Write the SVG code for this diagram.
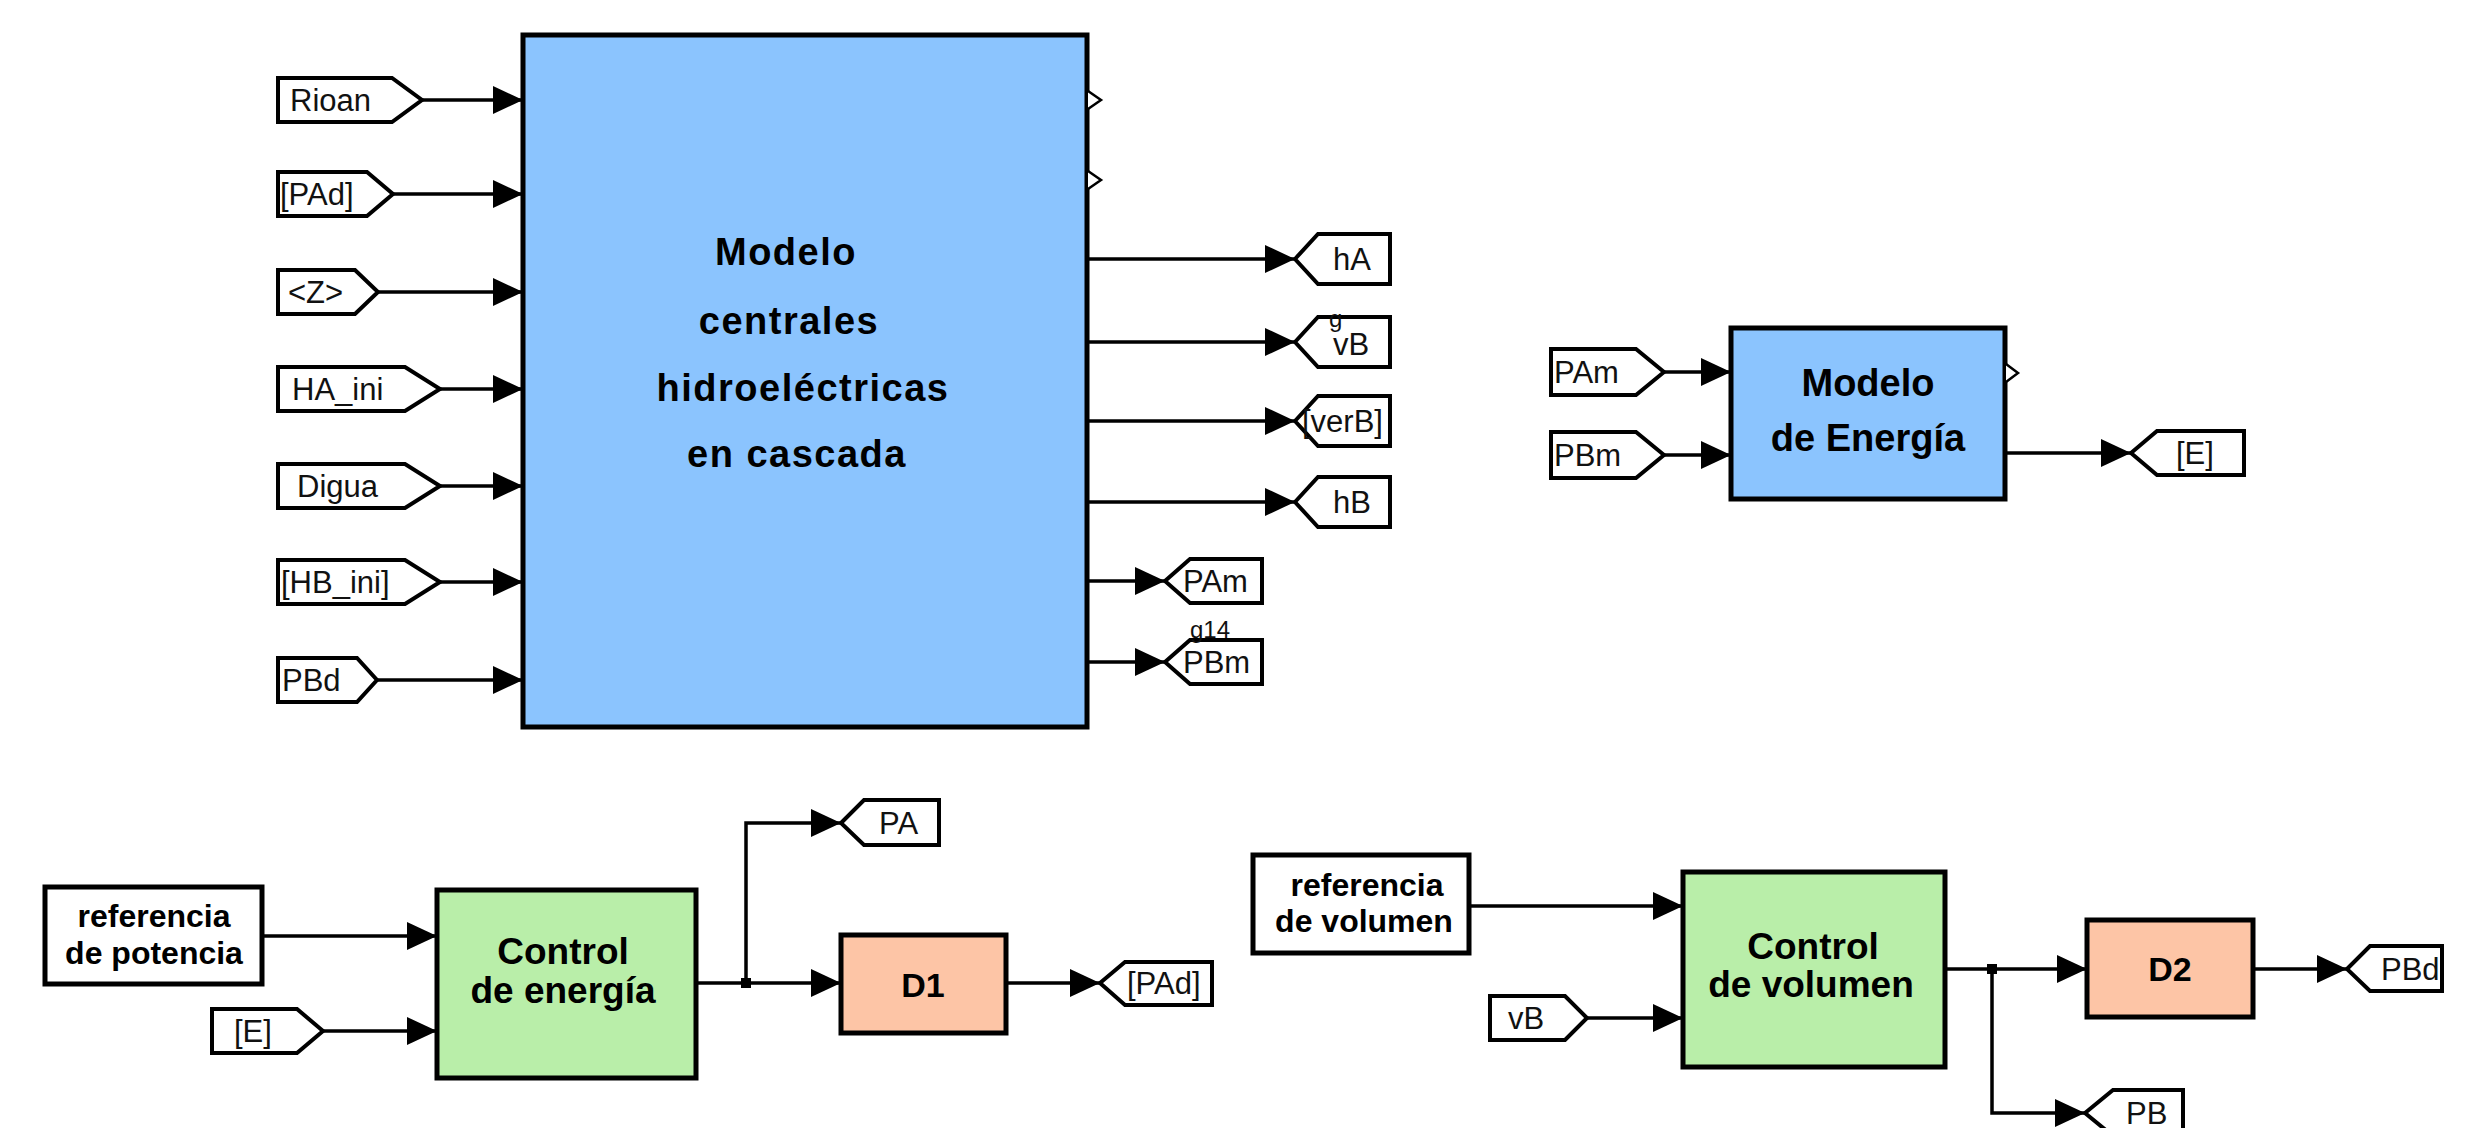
<svg xmlns="http://www.w3.org/2000/svg" width="2476" height="1128" viewBox="0 0 2476 1128">
<defs>
<marker id="arr" markerUnits="userSpaceOnUse" markerWidth="32" markerHeight="30" refX="30" refY="14" orient="auto"><path d="M0,0 L30,14 L0,28 Z" fill="#000"/></marker>
</defs>
<style>
.blk{stroke:#000;stroke-width:5}
.blue{fill:#8BC4FE}
.green{fill:#B9EEA9}
.peach{fill:#FDC5A6}
.tag{fill:#fff;stroke:#000;stroke-width:4;stroke-linejoin:miter}
.box{fill:#fff;stroke:#000;stroke-width:5}
.ln{fill:none;stroke:#000;stroke-width:3.5}
.port{fill:#fff;stroke:#000;stroke-width:2.5}
.tt{font-family:"Liberation Sans",Arial,sans-serif;font-size:31px;fill:#111}
.bt{font-family:"Liberation Sans",Arial,sans-serif;font-weight:bold;fill:#000;text-anchor:middle}
.sm{font-family:"Liberation Sans",Arial,sans-serif;font-size:24px;fill:#111}
</style>
<rect width="2476" height="1128" fill="#fff"/>

<g id="connectors">
<line class="ln" x1="422" y1="100" x2="523" y2="100" marker-end="url(#arr)"/>
<line class="ln" x1="393" y1="194" x2="523" y2="194" marker-end="url(#arr)"/>
<line class="ln" x1="378" y1="292" x2="523" y2="292" marker-end="url(#arr)"/>
<line class="ln" x1="440" y1="389" x2="523" y2="389" marker-end="url(#arr)"/>
<line class="ln" x1="440" y1="486" x2="523" y2="486" marker-end="url(#arr)"/>
<line class="ln" x1="440" y1="582" x2="523" y2="582" marker-end="url(#arr)"/>
<line class="ln" x1="377" y1="680" x2="523" y2="680" marker-end="url(#arr)"/>
<line class="ln" x1="1087" y1="259" x2="1295" y2="259" marker-end="url(#arr)"/>
<line class="ln" x1="1087" y1="342" x2="1295" y2="342" marker-end="url(#arr)"/>
<line class="ln" x1="1087" y1="421" x2="1295" y2="421" marker-end="url(#arr)"/>
<line class="ln" x1="1087" y1="502" x2="1295" y2="502" marker-end="url(#arr)"/>
<line class="ln" x1="1087" y1="581" x2="1165" y2="581" marker-end="url(#arr)"/>
<line class="ln" x1="1087" y1="662" x2="1165" y2="662" marker-end="url(#arr)"/>
<line class="ln" x1="1664" y1="372" x2="1731" y2="372" marker-end="url(#arr)"/>
<line class="ln" x1="1664" y1="455" x2="1731" y2="455" marker-end="url(#arr)"/>
<line class="ln" x1="2005" y1="453" x2="2131" y2="453" marker-end="url(#arr)"/>
<line class="ln" x1="262" y1="936" x2="437" y2="936" marker-end="url(#arr)"/>
<line class="ln" x1="323" y1="1031" x2="437" y2="1031" marker-end="url(#arr)"/>
<line class="ln" x1="696" y1="983" x2="841" y2="983" marker-end="url(#arr)"/>
<polyline class="ln" points="746,983 746,823 841,823" marker-end="url(#arr)"/>
<rect x="741" y="978" width="10" height="10" fill="#000"/>
<line class="ln" x1="1006" y1="983" x2="1100" y2="983" marker-end="url(#arr)"/>
<line class="ln" x1="1469" y1="906" x2="1683" y2="906" marker-end="url(#arr)"/>
<line class="ln" x1="1587" y1="1018" x2="1683" y2="1018" marker-end="url(#arr)"/>
<line class="ln" x1="1945" y1="969" x2="2087" y2="969" marker-end="url(#arr)"/>
<polyline class="ln" points="1992,969 1992,1113 2085,1113" marker-end="url(#arr)"/>
<rect x="1987" y="964" width="10" height="10" fill="#000"/>
<line class="ln" x1="2253" y1="969" x2="2347" y2="969" marker-end="url(#arr)"/>
</g>

<g id="main-block">
<rect class="blk blue" x="523" y="35" width="564" height="692"/>
<text class="bt" font-size="38" letter-spacing="1.5"><tspan x="786" y="265">Modelo</tspan><tspan x="789" y="334">centrales</tspan><tspan x="803" y="401">hidroeléctricas</tspan><tspan x="797" y="467">en cascada</tspan></text>
<path class="port" d="M1088,91 L1101,100 L1088,109"/>
<path class="port" d="M1088,171 L1101,180 L1088,189"/>
</g>

<g id="in-Rioan"><path class="tag" d="M278,78 H392 L422,100 L392,122 H278 Z"/><text class="tt" x="290" y="111">Rioan</text></g>
<g id="in-PAd"><path class="tag" d="M278,172 H367 L393,194 L367,216 H278 Z"/><text class="tt" x="280" y="205">[PAd]</text></g>
<g id="in-Z"><path class="tag" d="M278,270 H355 L378,292 L355,314 H278 Z"/><text class="tt" x="288" y="303">&lt;Z&gt;</text></g>
<g id="in-HA_ini"><path class="tag" d="M278,367 H405 L440,389 L405,411 H278 Z"/><text class="tt" x="292" y="400">HA_ini</text></g>
<g id="in-Digua"><path class="tag" d="M278,464 H405 L440,486 L405,508 H278 Z"/><text class="tt" x="297" y="497">Digua</text></g>
<g id="in-HB_ini"><path class="tag" d="M278,560 H405 L440,582 L405,604 H278 Z"/><text class="tt" x="281" y="593">[HB_ini]</text></g>
<g id="in-PBd"><path class="tag" d="M278,658 H357 L377,680 L357,702 H278 Z"/><text class="tt" x="282" y="691">PBd</text></g>

<g id="out-hA"><path class="tag" d="M1295,259 L1318,234 H1390 V284 H1318 Z"/><text class="tt" x="1333" y="270">hA</text></g>
<g id="out-vB"><path class="tag" d="M1295,342 L1318,317 H1390 V367 H1318 Z"/><text class="tt" x="1333" y="355">vB</text><text class="sm" x="1329" y="327" font-size="17">g</text></g>
<g id="out-verB"><path class="tag" d="M1295,421 L1318,396 H1390 V446 H1318 Z"/><text class="tt" x="1302" y="432">[verB]</text></g>
<g id="out-hB"><path class="tag" d="M1295,502 L1318,477 H1390 V527 H1318 Z"/><text class="tt" x="1333" y="513">hB</text></g>
<g id="out-PAm"><path class="tag" d="M1165,581 L1190,559 H1262 V603 H1190 Z"/><text class="tt" x="1183" y="592">PAm</text></g>
<g id="out-PBm"><path class="tag" d="M1165,662 L1190,640 H1262 V684 H1190 Z"/><text class="tt" x="1183" y="673">PBm</text><text class="sm" x="1190" y="638">g14</text></g>

<g id="energy-block">
<rect class="blk blue" x="1731" y="328" width="274" height="171"/>
<text class="bt" font-size="38"><tspan x="1868" y="396">Modelo</tspan><tspan x="1868" y="451">de Energía</tspan></text>
<path class="port" d="M2006,364 L2018,373 L2006,382"/>
</g>
<g id="in-PAm"><path class="tag" d="M1551,349 H1636 L1664,372 L1636,395 H1551 Z"/><text class="tt" x="1554" y="383">PAm</text></g>
<g id="in-PBm"><path class="tag" d="M1551,432 H1636 L1664,455 L1636,478 H1551 Z"/><text class="tt" x="1554" y="466">PBm</text></g>
<g id="out-E"><path class="tag" d="M2131,453 L2157,431 H2244 V475 H2157 Z"/><text class="tt" x="2176" y="464">[E]</text></g>

<g id="ref-potencia"><rect class="box" x="45" y="887" width="217" height="97"/><text class="bt" font-size="32"><tspan x="154" y="927">referencia</tspan><tspan x="154" y="964">de potencia</tspan></text></g>
<g id="in-E"><path class="tag" d="M212,1009 H297 L323,1031 L297,1053 H212 Z"/><text class="tt" x="234" y="1042">[E]</text></g>
<g id="control-energia"><rect class="blk green" x="437" y="890" width="259" height="188"/><text class="bt" font-size="37"><tspan x="563" y="964">Control</tspan><tspan x="563" y="1003">de energía</tspan></text></g>
<g id="out-PA"><path class="tag" d="M841,823 L864,800 H939 V845 H864 Z"/><text class="tt" x="879" y="834">PA</text></g>
<g id="D1"><rect class="blk peach" x="841" y="935" width="165" height="98"/><text class="bt" font-size="34" x="923" y="997">D1</text></g>
<g id="out-PAd"><path class="tag" d="M1100,983 L1125,962 H1212 V1005 H1125 Z"/><text class="tt" x="1127" y="994">[PAd]</text></g>

<g id="ref-volumen"><rect class="box" x="1253" y="855" width="216" height="98"/><text class="bt" font-size="32"><tspan x="1367" y="896">referencia</tspan><tspan x="1364" y="932">de volumen</tspan></text></g>
<g id="in-vB"><path class="tag" d="M1490,996 H1565 L1587,1018 L1565,1040 H1490 Z"/><text class="tt" x="1508" y="1029">vB</text></g>
<g id="control-volumen"><rect class="blk green" x="1683" y="872" width="262" height="195"/><text class="bt" font-size="37"><tspan x="1813" y="959">Control</tspan><tspan x="1811" y="997">de volumen</tspan></text></g>
<g id="D2"><rect class="blk peach" x="2087" y="920" width="166" height="97"/><text class="bt" font-size="34" x="2170" y="981">D2</text></g>
<g id="out-PBd"><path class="tag" d="M2347,969 L2370,946 H2442 V991 H2370 Z"/><text class="tt" x="2381" y="980">PBd</text></g>
<g id="out-PB"><path class="tag" d="M2085,1113 L2113,1090 H2183 V1136 H2113 Z"/><text class="tt" x="2126" y="1124">PB</text></g>
</svg>
